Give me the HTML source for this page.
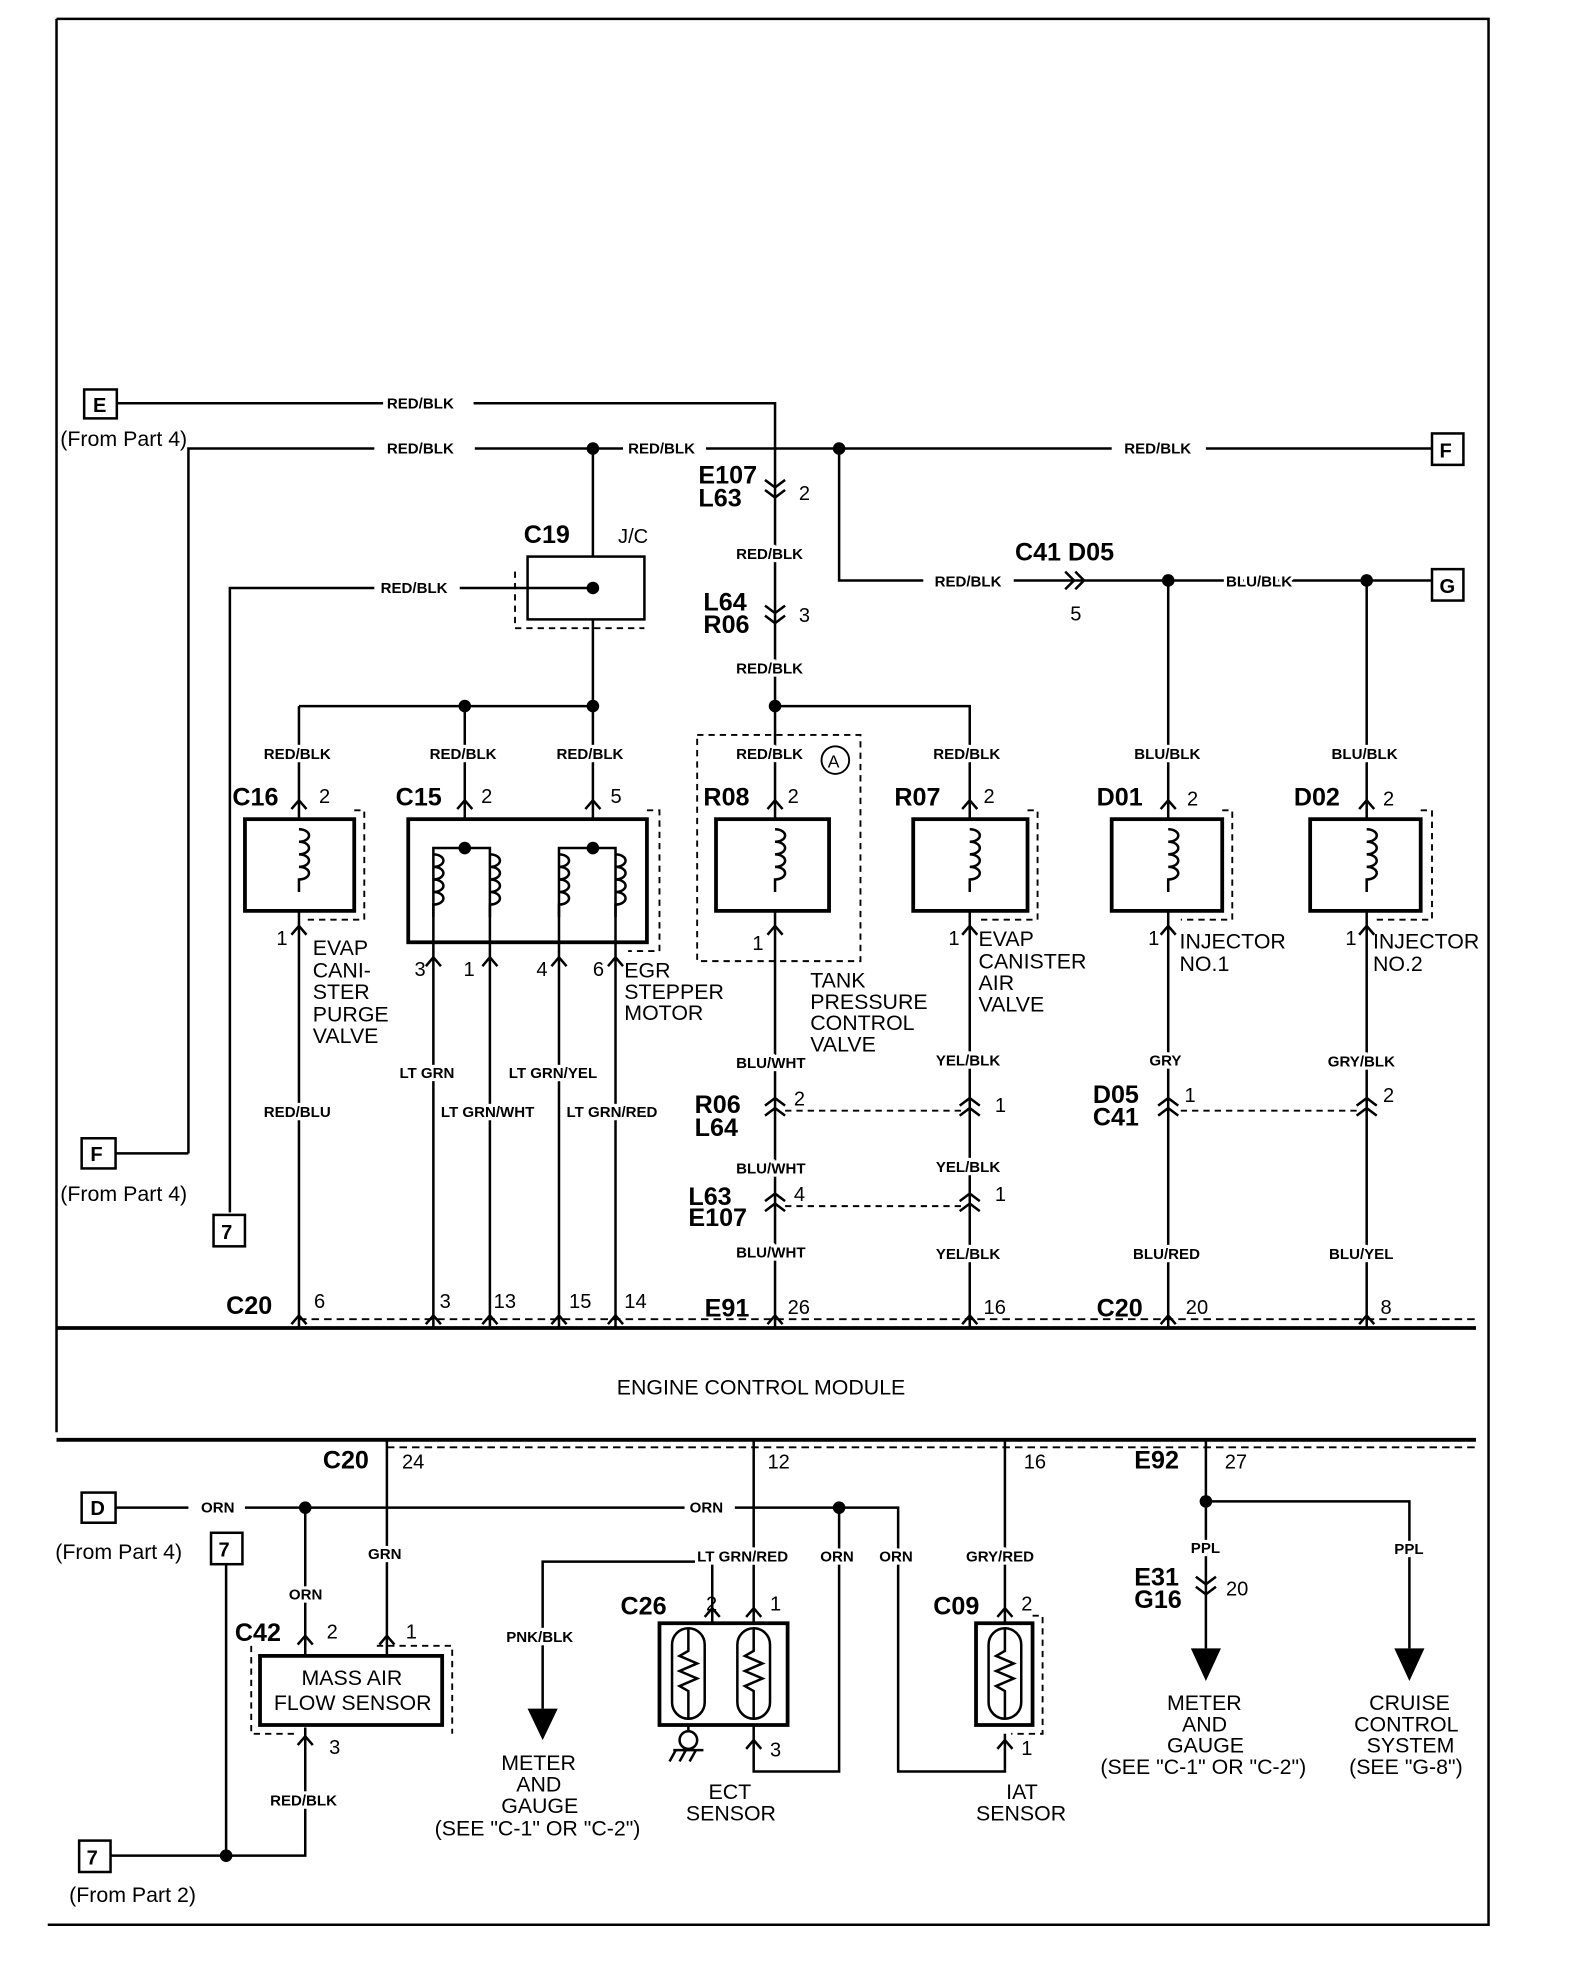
<!DOCTYPE html>
<html><head><meta charset="utf-8"><style>
html,body{margin:0;padding:0;background:#fff;}
svg{display:block;}
text{font-family:"Liberation Sans",sans-serif;fill:#000;}
.s{font-size:12px;font-weight:bold;}
.s text{paint-order:stroke;stroke:#fff;stroke-width:5px;}
.m{font-size:16px;}
.b{font-size:20px;font-weight:bold;}
.l{font-size:17px;}
</style></head><body>
<svg width="1584" height="1970" viewBox="0 0 1261 1568" preserveAspectRatio="none" xmlns="http://www.w3.org/2000/svg">
<defs>
<g id="coil" fill="none" stroke="#000" stroke-width="2"><path d="M0,-30 a8,5 0 1 1 0,10 a8,5 0 1 1 0,10 a8,5 0 1 1 0,10 a8,5 0 1 1 0,10 L0,20"/></g>
<g id="cv" fill="none" stroke="#000" stroke-width="2"><path d="M-8,-4 L0,-10 L8,-4 M-8,4 L0,-2 L8,4"/></g>
<g id="cd" fill="none" stroke="#000" stroke-width="2"><path d="M-8,-10 L0,-4 L8,-10 M-8,-2 L0,4 L8,-2"/></g>
<g id="pin" fill="none" stroke="#000" stroke-width="2"><path d="M-6,4 L0,-3 L6,4"/></g>
<g id="therm" fill="none" stroke="#000" stroke-width="2"><rect x="-13" y="-36" width="26" height="72" rx="13"/><path d="M0,-36 V-18 L-7,-14 L7,-8 L-7,-2 L7,4 L-7,10 L0,14 V36"/></g>
</defs>
<g fill="none" stroke="#000" stroke-width="2">
<path d="M45,15 H1185 V1532 H38 M45,15 V1140"/>
<path d="M45,1057 H1175 M45,1146 H1175" stroke-width="3"/>
<path d="M238,1050 H1175 M308,1152 H1175" stroke-dasharray="6,4" stroke-width="1.5"/>
<rect x="67" y="310" width="26" height="23"/>
<path d="M93,321 H305 M377,321 H617 V560"/>
<path d="M150,918 V357 H298 M378,357 H496 M562,357 H885 M960,357 H1140"/>
<rect x="1140" y="345" width="25" height="25"/>
<rect x="65" y="906" width="27" height="24"/>
<path d="M92,918 H150"/>
<path d="M472,357 V443 M472,493 V562 M183,965 V468 H298 M366,468 H420"/>
<rect x="420" y="443" width="93" height="50"/>
<path d="M410,455 V500 H513" stroke-dasharray="5,4" stroke-width="1.5"/>
<path d="M420,468 H472"/>
<rect x="170" y="967" width="25" height="25"/>
<path d="M238,562 H472 M238,562 V652 M370,562 V652 M472,562 V652"/>
<path d="M668,357 V462 H735 M807,462 H1140"/>
<rect x="1140" y="453" width="25" height="25"/>
<path d="M930,462 V652 M1088,462 V652"/>
<path d="M617,562 H772 V652 M617,562 V652"/>
<rect x="195" y="652" width="87" height="73" stroke-width="3"/>
<path d="M282,645 H290 V732 H245" stroke-dasharray="5,4" stroke-width="1.5"/>
<rect x="325" y="652" width="190" height="98" stroke-width="3"/>
<path d="M515,645 H525 V757 H500" stroke-dasharray="5,4" stroke-width="1.5"/>
<rect x="570" y="652" width="90" height="73" stroke-width="3"/>
<rect x="555" y="585" width="130" height="180" stroke-dasharray="5,4" stroke-width="1.5"/>
<rect x="727" y="652" width="91" height="73" stroke-width="3"/>
<path d="M818,645 H826 V732 H780" stroke-dasharray="5,4" stroke-width="1.5"/>
<rect x="885" y="652" width="88" height="73" stroke-width="3"/>
<path d="M973,645 H981 V732 H940" stroke-dasharray="5,4" stroke-width="1.5"/>
<rect x="1043" y="652" width="88" height="73" stroke-width="3"/>
<path d="M1131,645 H1140 V732 H1095" stroke-dasharray="5,4" stroke-width="1.5"/>
<path d="M345,750 V675 H390 V750 M445,750 V675 H490 V750"/>
<path d="M238,725 V1057 M345,750 V1057 M390,750 V1057 M445,750 V1057 M490,750 V1057 M617,725 V1057 M772,725 V1057 M930,725 V1057 M1088,725 V1057"/>
<path d="M625,884 H765 M625,960 H765 M940,884 H1080" stroke-dasharray="5,4" stroke-width="1.5"/>
<circle cx="665" cy="605" r="11" stroke-width="1.5"/>
<rect x="65" y="1188" width="27" height="24"/>
<path d="M92,1200 H150 M195,1200 H545 M585,1200 H715 V1410 H800 V1380"/>
<rect x="168" y="1220" width="25" height="25"/>
<path d="M180,1245 V1477 M88,1477 H243 V1375 M243,1200 V1318 M308,1146 V1318"/>
<rect x="63" y="1465" width="25" height="25"/>
<rect x="207" y="1318" width="145" height="55" stroke-width="3"/>
<path d="M200,1310 V1380 H235 M300,1310 H360 V1380" stroke-dasharray="5,4" stroke-width="1.5"/>
<path d="M600,1146 V1292 M567,1292 V1243 H432 V1360 M668,1200 V1410 H600 V1373"/>
<rect x="525" y="1292" width="102" height="81" stroke-width="3"/>
<path d="M800,1146 V1292"/>
<rect x="777" y="1292" width="45" height="81" stroke-width="3"/>
<path d="M822,1286 H830 V1380 H805" stroke-dasharray="5,4" stroke-width="1.5"/>
<path d="M960,1146 V1312 M960,1195 H1122 V1312"/>
<path d="M548,1373 V1378"/>
<circle cx="548" cy="1385" r="7"/>
<path d="M536,1393 H560 M538,1393 L533,1402 M546,1393 L541,1402 M554,1393 L549,1402"/>
</g>
<path d="M420,1360 H444 L432,1385 Z M948,1312 H972 L960,1338 Z M1110,1312 H1134 L1122,1338 Z" fill="#000"/>
<g fill="#000">
<circle cx="472" cy="357" r="5"/><circle cx="668" cy="357" r="5"/><circle cx="472" cy="468" r="5"/>
<circle cx="370" cy="562" r="5"/><circle cx="472" cy="562" r="5"/><circle cx="617" cy="562" r="5"/>
<circle cx="930" cy="462" r="5"/><circle cx="1088" cy="462" r="5"/>
<circle cx="370" cy="675" r="5"/><circle cx="472" cy="675" r="5"/>
<circle cx="243" cy="1200" r="5"/><circle cx="668" cy="1200" r="5"/><circle cx="180" cy="1477" r="5"/><circle cx="960" cy="1195" r="5"/>
</g>
<use href="#coil" x="238" y="690"/><use href="#coil" x="345" y="710"/><use href="#coil" x="390" y="710"/><use href="#coil" x="445" y="710"/><use href="#coil" x="490" y="710"/>
<use href="#coil" x="617" y="690"/><use href="#coil" x="772" y="690"/><use href="#coil" x="930" y="690"/><use href="#coil" x="1088" y="690"/>
<use href="#therm" x="548" y="1332"/><use href="#therm" x="600" y="1332"/><use href="#therm" x="800" y="1332"/>
<use href="#cd" x="617" y="392"/><use href="#cd" x="617" y="492"/>
<path d="M848,455 L855,462 L848,469 M856,455 L863,462 L856,469" fill="none" stroke="#000" stroke-width="2"/>
<use href="#cv" x="617" y="884"/><use href="#cv" x="772" y="884"/><use href="#cv" x="930" y="884"/><use href="#cv" x="1088" y="884"/>
<use href="#cv" x="617" y="960"/><use href="#cv" x="772" y="960"/>
<use href="#cd" x="960" y="1265"/>
<g>
<use href="#pin" x="238" y="640"/><use href="#pin" x="370" y="640"/><use href="#pin" x="472" y="640"/><use href="#pin" x="617" y="640"/><use href="#pin" x="772" y="640"/><use href="#pin" x="930" y="640"/><use href="#pin" x="1088" y="640"/>
<use href="#pin" x="238" y="740"/><use href="#pin" x="345" y="765"/><use href="#pin" x="390" y="765"/><use href="#pin" x="445" y="765"/><use href="#pin" x="490" y="765"/><use href="#pin" x="617" y="740"/><use href="#pin" x="772" y="740"/><use href="#pin" x="930" y="740"/><use href="#pin" x="1088" y="740"/>
<use href="#pin" x="238" y="1050"/><use href="#pin" x="345" y="1050"/><use href="#pin" x="390" y="1050"/><use href="#pin" x="445" y="1050"/><use href="#pin" x="490" y="1050"/><use href="#pin" x="617" y="1050"/><use href="#pin" x="772" y="1050"/><use href="#pin" x="930" y="1050"/><use href="#pin" x="1088" y="1050"/>
<use href="#pin" x="243" y="1305"/><use href="#pin" x="308" y="1305"/><use href="#pin" x="567" y="1283"/><use href="#pin" x="600" y="1283"/><use href="#pin" x="800" y="1283"/>
<use href="#pin" x="243" y="1385"/><use href="#pin" x="600" y="1388"/><use href="#pin" x="800" y="1388"/>
</g>
<text x="74" y="328" class="m" font-weight="bold">E</text>
<text x="1146" y="364" class="m" font-weight="bold">F</text>
<text x="72" y="924" class="m" font-weight="bold">F</text>
<text x="1146" y="472" class="m" font-weight="bold">G</text>
<text x="176" y="986" class="m" font-weight="bold">7</text>
<text x="72" y="1206" class="m" font-weight="bold">D</text>
<text x="174" y="1239" class="m" font-weight="bold">7</text>
<text x="69" y="1484" class="m" font-weight="bold">7</text>
<text x="48" y="355" class="l">(From Part 4)</text>
<text x="48" y="956" class="l">(From Part 4)</text>
<text x="44" y="1241" class="l">(From Part 4)</text>
<text x="55" y="1514" class="l">(From Part 2)</text>
<g class="s">
<text x="308" y="325">RED/BLK</text><text x="308" y="361">RED/BLK</text><text x="500" y="361">RED/BLK</text><text x="895" y="361">RED/BLK</text>
<text x="303" y="472">RED/BLK</text><text x="586" y="445">RED/BLK</text><text x="586" y="536">RED/BLK</text>
<text x="744" y="467">RED/BLK</text><text x="976" y="467">BLU/BLK</text>
<text x="210" y="604">RED/BLK</text><text x="342" y="604">RED/BLK</text><text x="443" y="604">RED/BLK</text><text x="586" y="604">RED/BLK</text><text x="743" y="604">RED/BLK</text><text x="903" y="604">BLU/BLK</text><text x="1060" y="604">BLU/BLK</text>
<text x="210" y="889">RED/BLU</text><text x="318" y="858">LT GRN</text><text x="351" y="889">LT GRN/WHT</text><text x="405" y="858">LT GRN/YEL</text><text x="451" y="889">LT GRN/RED</text>
<text x="586" y="850">BLU/WHT</text><text x="745" y="848">YEL/BLK</text><text x="915" y="848">GRY</text><text x="1057" y="849">GRY/BLK</text>
<text x="586" y="934">BLU/WHT</text><text x="745" y="933">YEL/BLK</text><text x="586" y="1001">BLU/WHT</text><text x="745" y="1002">YEL/BLK</text>
<text x="902" y="1002">BLU/RED</text><text x="1058" y="1002">BLU/YEL</text>
<text x="160" y="1204">ORN</text><text x="549" y="1204">ORN</text><text x="293" y="1241">GRN</text><text x="230" y="1273">ORN</text>
<text x="555" y="1243">LT GRN/RED</text><text x="653" y="1243">ORN</text><text x="700" y="1243">ORN</text><text x="769" y="1243">GRY/RED</text>
<text x="403" y="1307">PNK/BLK</text><text x="948" y="1236">PPL</text><text x="1110" y="1237">PPL</text><text x="215" y="1437">RED/BLK</text>
</g>
<g class="b">
<text x="556" y="385">E107</text><text x="556" y="403">L63</text><text x="560" y="486">L64</text><text x="560" y="504">R06</text>
<text x="417" y="432">C19</text><text x="808" y="446">C41 D05</text>
<text x="185" y="641">C16</text><text x="315" y="641">C15</text><text x="560" y="641">R08</text><text x="712" y="641">R07</text><text x="873" y="641">D01</text><text x="1030" y="641">D02</text>
<text x="553" y="886">R06</text><text x="553" y="904">L64</text><text x="548" y="959">L63</text><text x="548" y="976">E107</text>
<text x="870" y="878">D05</text><text x="870" y="896">C41</text>
<text x="180" y="1046">C20</text><text x="561" y="1048">E91</text><text x="873" y="1048">C20</text>
<text x="257" y="1169">C20</text><text x="903" y="1169">E92</text>
<text x="187" y="1306">C42</text><text x="494" y="1285">C26</text><text x="743" y="1285">C09</text>
<text x="903" y="1262">E31</text><text x="903" y="1280">G16</text>
</g>
<g class="m">
<text x="492" y="432">J/C</text><text x="636" y="398">2</text><text x="636" y="495">3</text><text x="852" y="494">5</text>
<text x="254" y="639">2</text><text x="383" y="639">2</text><text x="486" y="639">5</text><text x="627" y="639">2</text><text x="783" y="639">2</text><text x="945" y="641">2</text><text x="1101" y="641">2</text>
<text x="220" y="752">1</text><text x="330" y="777">3</text><text x="369" y="777">1</text><text x="427" y="777">4</text><text x="472" y="777">6</text><text x="599" y="756">1</text><text x="755" y="752">1</text><text x="914" y="752">1</text><text x="1071" y="752">1</text>
<text x="632" y="880">2</text><text x="792" y="885">1</text><text x="632" y="956">4</text><text x="792" y="956">1</text><text x="943" y="877">1</text><text x="1101" y="877">2</text>
<text x="250" y="1041">6</text><text x="350" y="1041">3</text><text x="393" y="1041">13</text><text x="453" y="1041">15</text><text x="497" y="1041">14</text><text x="627" y="1046">26</text><text x="783" y="1046">16</text><text x="944" y="1046">20</text><text x="1099" y="1046">8</text>
<text x="320" y="1169">24</text><text x="611" y="1169">12</text><text x="815" y="1169">16</text><text x="975" y="1169">27</text><text x="976" y="1270">20</text>
<text x="260" y="1304">2</text><text x="323" y="1304">1</text><text x="562" y="1282">2</text><text x="613" y="1282">1</text><text x="813" y="1282">2</text>
<text x="262" y="1396">3</text><text x="613" y="1398">3</text><text x="813" y="1397">1</text>
<text x="659" y="611" font-size="14">A</text>
</g>
<g class="l">
<text x="249" y="760">EVAP</text><text x="249" y="778">CANI-</text><text x="249" y="795">STER</text><text x="249" y="813">PURGE</text><text x="249" y="830">VALVE</text>
<text x="497" y="778">EGR</text><text x="497" y="795">STEPPER</text><text x="497" y="812">MOTOR</text>
<text x="645" y="786">TANK</text><text x="645" y="803">PRESSURE</text><text x="645" y="820">CONTROL</text><text x="645" y="837">VALVE</text>
<text x="779" y="753">EVAP</text><text x="779" y="771">CANISTER</text><text x="779" y="788">AIR</text><text x="779" y="805">VALVE</text>
<text x="939" y="755">INJECTOR</text><text x="939" y="773">NO.1</text><text x="1093" y="755">INJECTOR</text><text x="1093" y="773">NO.2</text>
<text x="491" y="1110">ENGINE CONTROL MODULE</text>
<text x="240" y="1341">MASS AIR</text><text x="218" y="1361">FLOW SENSOR</text>
<text x="399" y="1409">METER</text><text x="411" y="1426">AND</text><text x="399" y="1443">GAUGE</text><text x="346" y="1461">(SEE "C-1" OR "C-2")</text>
<text x="564" y="1432">ECT</text><text x="546" y="1449">SENSOR</text><text x="801" y="1432">IAT</text><text x="777" y="1449">SENSOR</text>
<text x="929" y="1361">METER</text><text x="941" y="1378">AND</text><text x="929" y="1395">GAUGE</text><text x="876" y="1412">(SEE "C-1" OR "C-2")</text>
<text x="1090" y="1361">CRUISE</text><text x="1078" y="1378">CONTROL</text><text x="1088" y="1395">SYSTEM</text><text x="1074" y="1412">(SEE "G-8")</text>
</g>
</svg>
</body></html>
